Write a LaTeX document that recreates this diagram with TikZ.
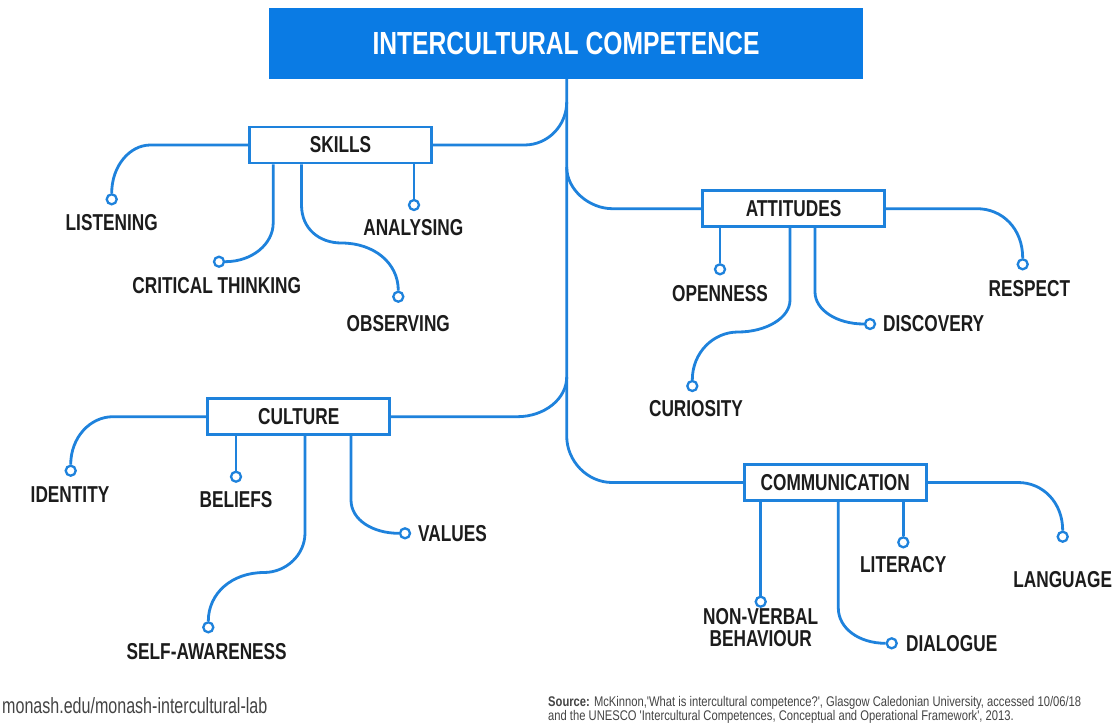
\documentclass[tikz,border=0pt]{standalone}
\usepackage{fontspec}
\setmainfont{Liberation Sans}
\newfontfamily\lblfont[FakeStretch=0.75]{Liberation Sans Bold}
\newfontfamily\ttlfont[FakeStretch=0.77]{Liberation Sans Bold}
\newfontfamily\webfont[FakeStretch=0.73]{Liberation Sans}
\newfontfamily\srcfont[FakeStretch=0.8]{Liberation Sans}
\definecolor{icblue}{HTML}{1E82DC}
\definecolor{titleblue}{HTML}{0A7BE4}
\definecolor{labelink}{HTML}{1C1C1C}
\definecolor{footgray}{HTML}{444444}
\tikzset{
  link/.style={draw=icblue, line width=2.8pt},
  titlebox/.style={fill=titleblue, minimum width=594, minimum height=71, inner sep=0,
    text=white, font=\ttlfont\fontsize{32}{32}\selectfont},
  catbox/.style={draw=icblue, line width=2.8pt, fill=white, minimum width=182,
    minimum height=36, inner sep=0, text=labelink, font=\lblfont\fontsize{23}{23}\selectfont},
  dot/.style={circle, draw=icblue, line width=2.3pt, fill=white, inner sep=0, minimum size=10},
  lab/.style={inner sep=0, text=labelink, font=\lblfont\fontsize{23}{22}\selectfont, align=center},
}
\begin{document}
\begin{tikzpicture}[x=1pt, y=-1pt]
\useasboundingbox (0,0) rectangle (1115,725);
\clip (0,0) rectangle (1115,725);
\fill[white] (0,0) rectangle (1115,725);

% root and category boxes
\node[titlebox] (ic) at (566,43.5) {INTERCULTURAL COMPETENCE};
\node[catbox] (skills) at (340.5,145) {SKILLS};
\node[catbox] (att) at (793.5,208.7) {ATTITUDES};
\node[catbox] (cult) at (298.8,416.7) {CULTURE};
\node[catbox] (comm) at (835.2,482.5) {COMMUNICATION};

% junctions on the trunk
\coordinate (tS) at (566.7,102);
\coordinate (tA) at (566.7,167);
\coordinate (tC) at (566.7,377);

% trunk and the four branches
\draw[link] (ic.south -| tS) -- (566.7,436) .. controls +(0,25) and +(-25,0) .. (612.2,482.5) -- (comm.west);
\draw[link] (skills.east) -- (524.5,145) .. controls +(23.5,0) and +(0,23.5) .. (tS);
\draw[link] (tA) .. controls +(0,23) and +(-23,0) .. (612.5,208.7) -- (att.west);
\draw[link] (cult.east) -- (517.3,416.7) .. controls +(27,0) and +(0,22) .. (tC);

% skills
\node[dot] (l1) at (111.7,199.3) {};
\node[lab] (l1t) at (111.7,222.3) {LISTENING};
\node[dot] (c2) at (219,261.7) {};
\node[lab] (c2t) at (216.7,285.7) {CRITICAL THINKING};
\node[dot] (o3) at (398.3,296.7) {};
\node[lab] (o3t) at (398.3,323.3) {OBSERVING};
\node[dot] (a4) at (414,205) {};
\node[lab] (a4t) at (413.3,227.3) {ANALYSING};
\draw[link] (skills.west) -- (150.5,145) .. controls +(-21,0) and +(0,-27) .. (l1.north);
\draw[link] (skills.south -| 273.2,0) -- (273.2,223) .. controls +(0,21) and +(27,0) .. (c2.east);
\draw[link] (skills.south -| 301.5,0) -- (301.5,205) .. controls +(0,24) and +(-22,0) .. (341.5,243)
  .. controls +(32,0) and +(0,-28) .. (o3.north);
\draw[link] (skills.south -| a4) -- (a4.north);

% attitudes
\node[dot] (op) at (720,269.3) {};
\node[lab] (opt) at (720,293.3) {OPENNESS};
\node[dot] (cu) at (692.3,386) {};
\node[lab] (cut) at (696,408.3) {CURIOSITY};
\node[dot] (di) at (870,324) {};
\node[lab, anchor=west] (dit) at (883,324) {DISCOVERY};
\node[dot] (re) at (1022.7,264.3) {};
\node[lab] (ret) at (1029.3,288.3) {RESPECT};
\draw[link] (att.south -| op) -- (op.north);
\draw[link] (att.south -| 790,0) -- (790,300) .. controls +(0,18) and +(28,0) .. (738,332)
  .. controls +(-25,0) and +(0,-27) .. (cu.north);
\draw[link] (att.south -| 815,0) -- (815,292) .. controls +(0,18) and +(-27,0) .. (di.west);
\draw[link] (att.east) -- (977,208.7) .. controls +(25,0) and +(0,-30) .. (re.north);

% culture
\node[dot] (id) at (70.7,470.7) {};
\node[lab] (idt) at (70,495) {IDENTITY};
\node[dot] (be) at (236,476.7) {};
\node[lab] (bet) at (236,499.3) {BELIEFS};
\node[dot] (sa) at (208.3,627.3) {};
\node[lab] (sat) at (206.7,651.7) {SELF-AWARENESS};
\node[dot] (va) at (405,533.3) {};
\node[lab, anchor=west] (vat) at (418,533.3) {VALUES};
\draw[link] (cult.west) -- (113,416.7) .. controls +(-23,0) and +(0,-27) .. (id.north);
\draw[link] (cult.south -| be) -- (be.north);
\draw[link] (cult.south -| 305,0) -- (305,533) .. controls +(0,22) and +(22,0) .. (264,572.5)
  .. controls +(-32,0) and +(0,-28) .. (sa.north);
\draw[link] (cult.south -| 351,0) -- (351,500) .. controls +(0,20) and +(-26,0) .. (va.west);

% communication
\node[dot] (nv) at (760.7,601.7) {};
\node[lab] (nvt) at (760.7,627.5) {NON-VERBAL\\BEHAVIOUR};
\node[dot] (dl) at (891.7,643.3) {};
\node[lab, anchor=west] (dlt) at (906,644) {DIALOGUE};
\node[dot] (li) at (903.3,542.3) {};
\node[lab] (lit) at (903.3,565) {LITERACY};
\node[dot] (la) at (1062.7,536.7) {};
\node[lab] (lat) at (1062.7,580) {LANGUAGE};
\draw[link] (comm.south -| nv) -- (nv.north);
\draw[link] (comm.south -| 838.3,0) -- (838.3,608) .. controls +(0,20) and +(-27,0) .. (dl.west);
\draw[link] (comm.south -| li) -- (li.north);
\draw[link] (comm.east) -- (1018,482.5) .. controls +(25,0) and +(0,-28) .. (la.north);

% footer
\node[anchor=base west, inner sep=0, text=footgray, font=\webfont\fontsize{22}{22}\selectfont]
  (web) at (2,713) {monash.edu/monash-intercultural-lab};
\node[anchor=base west, inner sep=0, text=footgray, align=left,
  font=\srcfont\fontsize{14}{13}\selectfont] (src) at (548,720.5)
  {\textbf{Source:} McKinnon,'What is intercultural competence?', Glasgow Caledonian University, accessed 10/06/18\\
   and the UNESCO 'Intercultural Competences, Conceptual and Operational Framework', 2013.};
\end{tikzpicture}
\end{document}
